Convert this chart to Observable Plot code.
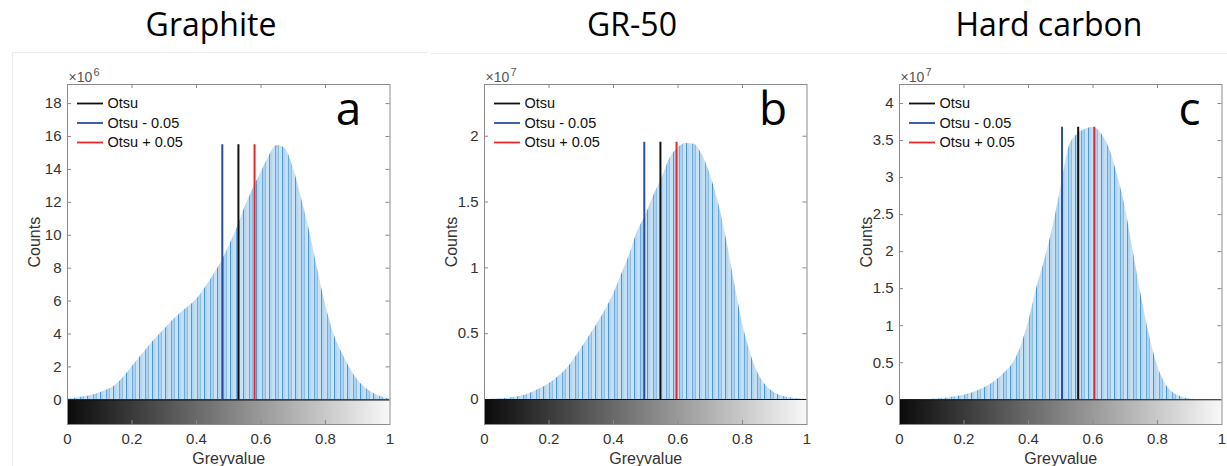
<!DOCTYPE html>
<html>
<head>
<meta charset="utf-8">
<script src="https://cdn.jsdelivr.net/npm/d3@7"></script>
<script src="https://cdn.jsdelivr.net/npm/@observablehq/plot@0.6"></script>
<style>
  html, body { margin: 0; padding: 0; background: #fff; overflow: hidden; }
  #wrap { position: relative; width: 1227px; height: 466px; }
  .title { position: absolute; top: 3px; font-family: "Open Sans", sans-serif; font-size: 32px; color: #000; transform: translateX(-50%); white-space: nowrap; line-height: 42px; }
  .panel { position: absolute; top: 55px; }
  .sep { position: absolute; background: #ececec; }
</style>
</head>
<body>
<svg width="0" height="0" style="position:absolute">
  <defs>
    <linearGradient id="greyramp" x1="0" x2="1" y1="0" y2="0">
      <stop offset="0" stop-color="#0a0a0a"></stop>
      <stop offset="1" stop-color="#f8f8f8"></stop>
    </linearGradient>
    <pattern id="stripes" patternUnits="userSpaceOnUse" width="13" height="10">
      <rect x="0" y="0" width="3" height="10" fill="#c4dff3"></rect>
      <rect x="3" y="0" width="1" height="10" fill="#6aaadd"></rect>
      <rect x="4" y="0" width="2" height="10" fill="#aed2ee"></rect>
      <rect x="6" y="0" width="1" height="10" fill="#8cbfe6"></rect>
      <rect x="7" y="0" width="3" height="10" fill="#c9e2f4"></rect>
      <rect x="10" y="0" width="1" height="10" fill="#4f97d3"></rect>
      <rect x="11" y="0" width="2" height="10" fill="#b3d5ef"></rect>
    </pattern>
  </defs>
</svg>
<div id="wrap">
  <div class="sep" style="left:12px;top:52px;width:416px;height:1px"></div>
  <div class="sep" style="left:430px;top:53px;width:415px;height:1px"></div>
  <div class="sep" style="left:846px;top:53px;width:381px;height:1px"></div>
  <div class="sep" style="left:12px;top:52px;width:1px;height:414px"></div>
</div>
<script>
// ---- data ----
const greyvalues = [0, 0.025, 0.05, 0.075, 0.1, 0.125, 0.15, 0.175, 0.2, 0.225, 0.25, 0.275, 0.3, 0.325, 0.35, 0.375, 0.4, 0.425, 0.45, 0.475, 0.5, 0.525, 0.55, 0.575, 0.6, 0.625, 0.65, 0.675, 0.7, 0.725, 0.75, 0.775, 0.8, 0.825, 0.85, 0.875, 0.9, 0.925, 0.95, 0.975, 1];
// Graphite counts (x10^6)
const countsGraphite = [0.05, 0.1, 0.18, 0.28, 0.42, 0.62, 0.9, 1.4, 2.0, 2.6, 3.2, 3.75, 4.25, 4.8, 5.25, 5.65, 6.1, 6.75, 7.5, 8.3, 9.3, 10.4, 11.7, 12.8, 13.8, 14.8, 15.45, 15.25, 14.1, 12.3, 10.3, 8.0, 5.8, 4.05, 2.9, 1.95, 1.2, 0.7, 0.38, 0.17, 0.03];
// GR-50 counts (x10^7)
const countsGR50 = [0, 0.002, 0.005, 0.01, 0.018, 0.033, 0.055, 0.085, 0.12, 0.165, 0.22, 0.295, 0.385, 0.48, 0.575, 0.68, 0.8, 0.95, 1.1, 1.28, 1.4, 1.55, 1.68, 1.83, 1.91, 1.945, 1.94, 1.86, 1.71, 1.5, 1.22, 0.89, 0.58, 0.35, 0.19, 0.1, 0.05, 0.025, 0.012, 0.004, 0];
// Hard carbon counts (x10^7)
const countsHardCarbon = [0, 0, 0, 0.003, 0.008, 0.015, 0.025, 0.04, 0.06, 0.09, 0.135, 0.19, 0.26, 0.36, 0.48, 0.7, 1.05, 1.5, 1.88, 2.32, 2.85, 3.4, 3.58, 3.65, 3.68, 3.6, 3.4, 3.05, 2.6, 2.0, 1.4, 0.87, 0.46, 0.21, 0.09, 0.035, 0.012, 0.004, 0.001, 0, 0];

const titles = ["Graphite", "GR-50", "Hard carbon"];
const panelLetters = ["a", "b", "c"];
const exponents = ["6", "7", "7"];
const otsuThresholds = [0.53, 0.5455, 0.554];
const otsuOffset = 0.05;
const thresholdLineTops = [15.5, 1.955, 3.68];
const yTicksGraphite = [0, 2, 4, 6, 8, 10, 12, 14, 16, 18];
const yTicksGR50 = [0, 0.5, 1, 1.5, 2];
const yTicksHardCarbon = [0, 0.5, 1, 1.5, 2, 2.5, 3, 3.5, 4];
const xTicks = [0, 0.2, 0.4, 0.6, 0.8, 1];
const legendLabels = ["Otsu", "Otsu - 0.05", "Otsu + 0.05"];
const legendColors = ["#111111", "#2b4ea2", "#e8262b"];

// ---- layout ----
const panels = [
  {counts: countsGraphite, yTicks: yTicksGraphite, ydom: [-1.5, 19.16], left: 12, width: 400, mr: 22.5, letterDx: -41.5, titleX: 211},
  {counts: countsGR50, yTicks: yTicksGR50, ydom: [-0.19, 2.393], left: 429, width: 400, mr: 22.5, letterDx: -34, titleX: 632},
  {counts: countsHardCarbon, yTicks: yTicksHardCarbon, ydom: [-0.334, 4.257], left: 844, width: 383, mr: 5.5, letterDx: -32.5, titleX: 1049}
];

const H = 411, MT = 29, MB = 42, ML = 55;
const plotH = H - MT - MB;
const font = "'Liberation Sans', Arial, sans-serif";
const wrap = document.getElementById("wrap");

panels.forEach((p, i) => {
  const t = document.createElement("div");
  t.className = "title";
  t.style.left = p.titleX + "px";
  t.textContent = titles[i];
  wrap.appendChild(t);

  const data = greyvalues.map((g, k) => ({g, c: p.counts[k]}));
  const [ymin, ymax] = p.ydom;
  const plotW = p.width - ML - p.mr;
  const yAt = (px) => ymax - px / plotH * (ymax - ymin); // pixel offset from top -> data
  const tickLenY = 4 / plotH * (ymax - ymin);
  const tickLenX = 4 / plotW;
  const otsu = otsuThresholds[i];
  const thresholds = [
    {x: otsu - otsuOffset, color: legendColors[1]},
    {x: otsu, color: legendColors[0]},
    {x: otsu + otsuOffset, color: legendColors[2]}
  ];
  const legendRows = legendLabels.map((label, k) => ({label, color: legendColors[k], y: yAt(19 + k * 19.5)}));
  const innerX = xTicks.slice(1, -1);
  const innerY = p.yTicks.slice(1);

  const chart = Plot.plot({
    width: p.width,
    height: H,
    marginLeft: ML,
    marginRight: p.mr,
    marginTop: MT,
    marginBottom: MB,
    style: {fontFamily: font, fontSize: "15px", color: "#333", background: "transparent"},
    x: {domain: [0, 1]},
    y: {domain: p.ydom},
    marks: [
      Plot.rect([{}], {x1: 0, x2: 1, y1: ymin, y2: 0, fill: "url(#greyramp)"}),
      Plot.areaY(data, {x: "g", y: "c", fill: "url(#stripes)", curve: "monotone-x"}),
      Plot.ruleY([0], {stroke: "#111", strokeWidth: 1.2}),
      Plot.ruleX(thresholds, {x: "x", y1: 0, y2: thresholdLineTops[i], stroke: "color", strokeWidth: 2}),
      // inward ticks on all four sides
      Plot.ruleY(innerY, {x1: 0, x2: tickLenX, stroke: "#888"}),
      Plot.ruleY(innerY, {x1: 1 - tickLenX, x2: 1, stroke: "#888"}),
      Plot.ruleX(innerX, {y1: ymax, y2: ymax - tickLenY, stroke: "#888"}),
      Plot.ruleX(innerX, {y1: ymin, y2: ymin + tickLenY, stroke: "#888"}),
      Plot.frame({stroke: "#8c8c8c"}),
      Plot.axisX({ticks: xTicks, tickSize: 0, tickPadding: 9, tickFormat: d => String(d), label: null, fontSize: 15}),
      Plot.axisY({ticks: p.yTicks, tickSize: 0, tickPadding: 6, tickFormat: d => String(d), label: null, fontSize: 15}),
      Plot.text(["Greyvalue"], {x: 0.5, frameAnchor: "bottom", dy: 39, lineAnchor: "bottom", fontSize: 16, fill: "#333"}),
      Plot.text(["Counts"], {x: 0, y: ymax / 2, dx: -33, rotate: -90, textAnchor: "middle", lineAnchor: "middle", fontSize: 16, fill: "#333"}),
      Plot.text(["\u00d710"], {frameAnchor: "top-left", dx: 1, dy: -3, lineAnchor: "bottom", textAnchor: "start", fontSize: 14, fill: "#555"}),
      Plot.text([exponents[i]], {frameAnchor: "top-left", dx: 26, dy: -9, lineAnchor: "bottom", textAnchor: "start", fontSize: 11, fill: "#555"}),
      // legend
      Plot.ruleY(legendRows, {y: "y", x1: 10 / plotW, x2: 36 / plotW, stroke: "color", strokeWidth: 1.8}),
      Plot.text(legendRows, {y: "y", x: 40 / plotW, text: "label", textAnchor: "start", lineAnchor: "middle", fontSize: 14.5, fill: "#111"}),
      // panel letter
      Plot.text([panelLetters[i]], {frameAnchor: "top-right", dx: p.letterDx, dy: 40, textAnchor: "middle", lineAnchor: "bottom", fontSize: 46, fontFamily: "'Open Sans', sans-serif", fill: "#000"})
    ]
  });
  chart.classList.add("panel");
  chart.style.left = p.left + "px";
  wrap.appendChild(chart);
});
</script>
</body>
</html>
